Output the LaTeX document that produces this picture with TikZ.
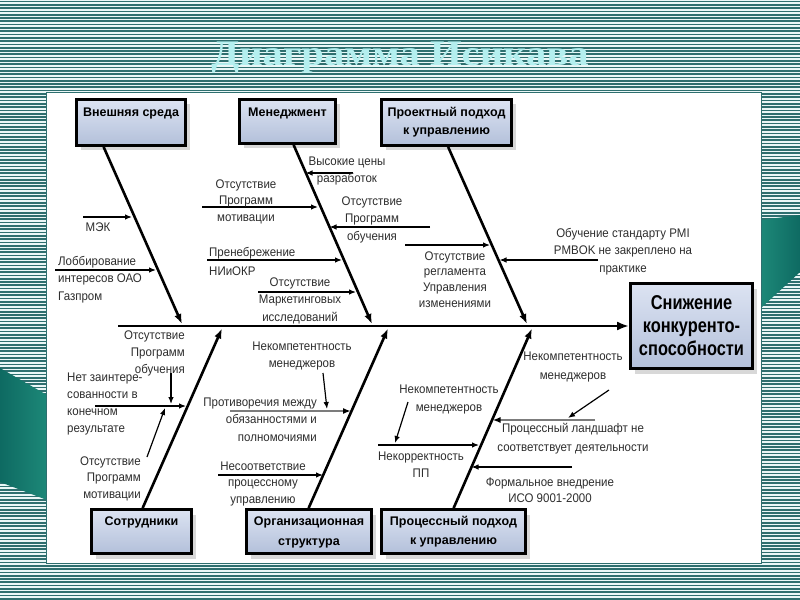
\documentclass[tikz,border=0pt]{standalone}
\usepackage{fontspec}
\setmainfont{Liberation Sans}
\newfontfamily\smallfam[FakeStretch=0.92]{Liberation Sans}
\newfontfamily\boxfam{Liberation Sans}
\newfontfamily\effam[FakeStretch=0.82]{Liberation Sans}
\newfontfamily\titlefam[FakeStretch=1.13]{Liberation Serif}
\usetikzlibrary{arrows.meta,shadows}
\definecolor{stripe}{HTML}{2E6F6F}
\definecolor{stripebg}{HTML}{EAF7F7}
\definecolor{tealA}{HTML}{0E6A62}
\definecolor{tealB}{HTML}{1D8878}
\definecolor{boxtop}{HTML}{DCE3F2}
\definecolor{boxbot}{HTML}{B3C0DA}
\definecolor{txt}{HTML}{2E2E2E}
\definecolor{titlec}{HTML}{B4EFEF}
\definecolor{grayline}{HTML}{7C7C7C}
\begin{document}
\begin{tikzpicture}[x=1bp,y=-1bp,
  box/.style={draw=black, line width=2.8bp, top color=boxtop, bottom color=boxbot, inner sep=0,
    drop shadow={shadow xshift=4bp, shadow yshift=-5bp, fill=black!30, opacity=0.5}},
  boxlab/.style={font=\fontsize{12.5bp}{#1}\boxfam\bfseries, align=center, inner sep=0, text=black},
  boxlab/.default=18bp,
  bone/.style={line width=2.6bp, -{Latex[length=10bp,width=7.5bp]}},
  spine/.style={line width=2.8bp, -{Latex[length=12bp,width=9bp]}},
  twig/.style={line width=1.2bp, -{Latex[length=7bp,width=5.5bp]}},
  greytwig/.style={draw=grayline, line width=2.6bp, -{Latex[length=8bp,width=6bp,color=black]}},
  lbl/.style={font=\fontsize{12.5bp}{#1}\smallfam, text=txt, inner sep=0, align=center},
  lbl/.default=17bp,
  titlelab/.style={font=\fontsize{36bp}{40bp}\titlefam\bfseries, text=titlec, inner sep=0}
]
\useasboundingbox (0,0) rectangle (800,600);
% striped background
\fill[stripebg] (0,0) rectangle (800,600);
\foreach \i in {0,...,181} \draw[stripe, line width=1.7bp] (0,{\i*3.3+1.5}) -- (800,{\i*3.3+1.5});
% teal decorations
\shade[left color=tealA, right color=tealB] (0,368) -- (47,395) -- (47,500) -- (0,482) -- cycle;
\shade[left color=tealB, right color=tealA] (761,220) -- (800,215) -- (800,272) -- (761,308) -- cycle;
% white panel
\filldraw[fill=white, draw=stripe, line width=0.8bp] (46,92) rectangle (761,563);
% title
\node[titlelab] (title) at (400,58) {Диаграмма Исикава};

% category boxes
\node[box, minimum width=109bp, minimum height=46bp] (b1) at (131,122.5) {};
\node[boxlab] (b1t) at (131,113) {Внешняя среда};
\node[box, minimum width=96bp, minimum height=44bp] (b2) at (287.5,121.5) {};
\node[boxlab] (b2t) at (287.5,113) {Менеджмент};
\node[box, minimum width=130bp, minimum height=46bp] (b3) at (446.5,122.5) {};
\node[boxlab] (b3t) at (446.5,122) {Проектный подход\\к управлению};
\node[box, minimum width=100bp, minimum height=44bp] (b4) at (141.5,531.5) {};
\node[boxlab] (b4t) at (141.5,522) {Сотрудники};
\node[box, minimum width=125bp, minimum height=44bp] (b5) at (309,531.5) {};
\node[boxlab=20bp] (b5t) at (309,532) {Организационная\\структура};
\node[box, minimum width=144bp, minimum height=44bp] (b6) at (453.5,531.5) {};
\node[boxlab=19bp] (b6t) at (453.5,531.5) {Процессный подход\\к управлению};
% effect box
\node[box, minimum width=122bp, minimum height=85bp] (eff) at (691.5,326) {};
\node[font=\fontsize{20bp}{23bp}\effam\bfseries, align=center, inner sep=0] (efft) at (691.5,326) {Снижение\\конкуренто-\\способности};

% spine
\coordinate (tail) at (118,326);
\draw[spine] (tail) -- (eff.west);
% junctions on spine
\coordinate (j1) at (182,324);
\coordinate (j2) at (372,324);
\coordinate (j3) at (527,324);
\coordinate (j4) at (222,328.5);
\coordinate (j5) at (388,328.5);
\coordinate (j6) at (532,328.5);
% bones
\draw[bone] ([xshift=28.5bp]b1.south west) -- (j1);
\draw[bone] ([xshift=55.5bp]b2.south west) -- (j2);
\draw[bone] ([xshift=68bp]b3.south west) -- (j3);
\draw[bone] ([xshift=52.5bp]b4.north west) -- (j4);
\draw[bone] ([xshift=63.5bp]b5.north west) -- (j5);
\draw[bone] ([xshift=73.5bp]b6.north west) -- (j6);

% twig coordinates
\coordinate (a1s) at (83,217);   \coordinate (a1e) at (132,217);
\coordinate (a2s) at (55,270);   \coordinate (a2e) at (156,270);
\coordinate (a3s) at (353,173);  \coordinate (a3e) at (305.5,173);
\coordinate (a4s) at (202,207);  \coordinate (a4e) at (318,207);
\coordinate (a5s) at (430,227);  \coordinate (a5e) at (329.5,227);
\coordinate (a6s) at (207,260);  \coordinate (a6e) at (342,260);
\coordinate (a7s) at (258,292);  \coordinate (a7e) at (356,292);
\coordinate (a8s) at (405,245);  \coordinate (a8e) at (490,245);
\coordinate (a9s) at (598,260);  \coordinate (a9e) at (499.5,260);
\coordinate (c1s) at (95,406);   \coordinate (c1e) at (186,406);
\coordinate (c2s) at (230,411);  \coordinate (c2e) at (351,411);
\coordinate (c3s) at (218,475);  \coordinate (c3e) at (323,475);
\coordinate (c4s) at (595,420);  \coordinate (c4e) at (492.5,420);
\coordinate (c5s) at (378,445);  \coordinate (c5e) at (479,445);
\coordinate (c6s) at (572,467);  \coordinate (c6e) at (471.5,467);
% secondary twigs
\coordinate (d1s) at (171,373);  \coordinate (d1e) at (171,404);
\coordinate (d2s) at (147,457);  \coordinate (d2e) at (165,408);
\coordinate (d3s) at (323,373);  \coordinate (d3e) at (327,409);
\coordinate (d4s) at (408,402);  \coordinate (d4e) at (395,443);
\coordinate (d5s) at (609,390);  \coordinate (d5e) at (568,418);

\foreach \p in {a1,a2,a3,a4,a5,a6,a7,a8,a9,c1,c3,c5,c6,d1,d2,d3,d4,d5}
  \draw[twig] (\p s) -- (\p e);
\draw[greytwig] (c2s) -- (c2e);
\draw[greytwig] (c4s) -- (c4e);

% labels, upper half
\node[lbl] (t1) at (98,227) {МЭК};
\node[lbl=17.5bp, align=left, anchor=west] (t2) at (58,279.5) {Лоббирование\\интересов ОАО\\Газпром};
\node[lbl=17bp] (t3) at (347,170.5) {Высокие цены\\разработок};
\node[lbl=16.5bp] (t4) at (246,201.5) {Отсутствие\\Программ\\мотивации};
\node[lbl=17.5bp] (t5) at (372,219.5) {Отсутствие\\Программ\\обучения};
\node[lbl=19bp, align=left, anchor=west] (t6) at (209,261.5) {Пренебрежение\\НИиОКР};
\node[lbl=17.5bp] (t7) at (300,300.5) {Отсутствие\\Маркетинговых\\исследований};
\node[lbl=15.7bp] (t8) at (455,279.5) {Отсутствие\\регламента\\Управления\\изменениями};
\node[lbl=17.5bp] (t9) at (623,251.5) {Обучение стандарту PMI\\PMBOK не закреплено на\\практике};
% labels, lower half
\node[lbl=17bp, align=right, anchor=east] (t10) at (185,353) {Отсутствие\\Программ\\обучения};
\node[lbl=17.3bp, align=left, anchor=west] (t11) at (67,404) {Нет заинтере-\\сованности в\\конечном\\результате};
\node[lbl=16.5bp, align=right, anchor=east] (t12) at (141,478.5) {Отсутствие\\Программ\\мотивации};
\node[lbl=17bp] (t13) at (302,355.5) {Некомпетентность\\менеджеров};
\node[lbl=17.5bp, align=right, anchor=east] (t14) at (317,419.5) {Противоречия между\\обязанностями и\\полномочиями};
\node[lbl=16.5bp] (t15) at (263,483.5) {Несоответствие\\процессному\\управлению};
\node[lbl=18bp] (t16) at (449,399) {Некомпетентность\\менеджеров};
\node[lbl=17bp] (t17) at (421,464.5) {Некорректность\\ПП};
\node[lbl=19bp] (t18) at (573,366.5) {Некомпетентность\\менеджеров};
\node[lbl=19bp] (t19) at (573,438.5) {Процессный ландшафт не\\соответствует деятельности};
\node[lbl=16bp] (t20) at (550,490) {Формальное внедрение\\ИСО 9001-2000};
\end{tikzpicture}
\end{document}
